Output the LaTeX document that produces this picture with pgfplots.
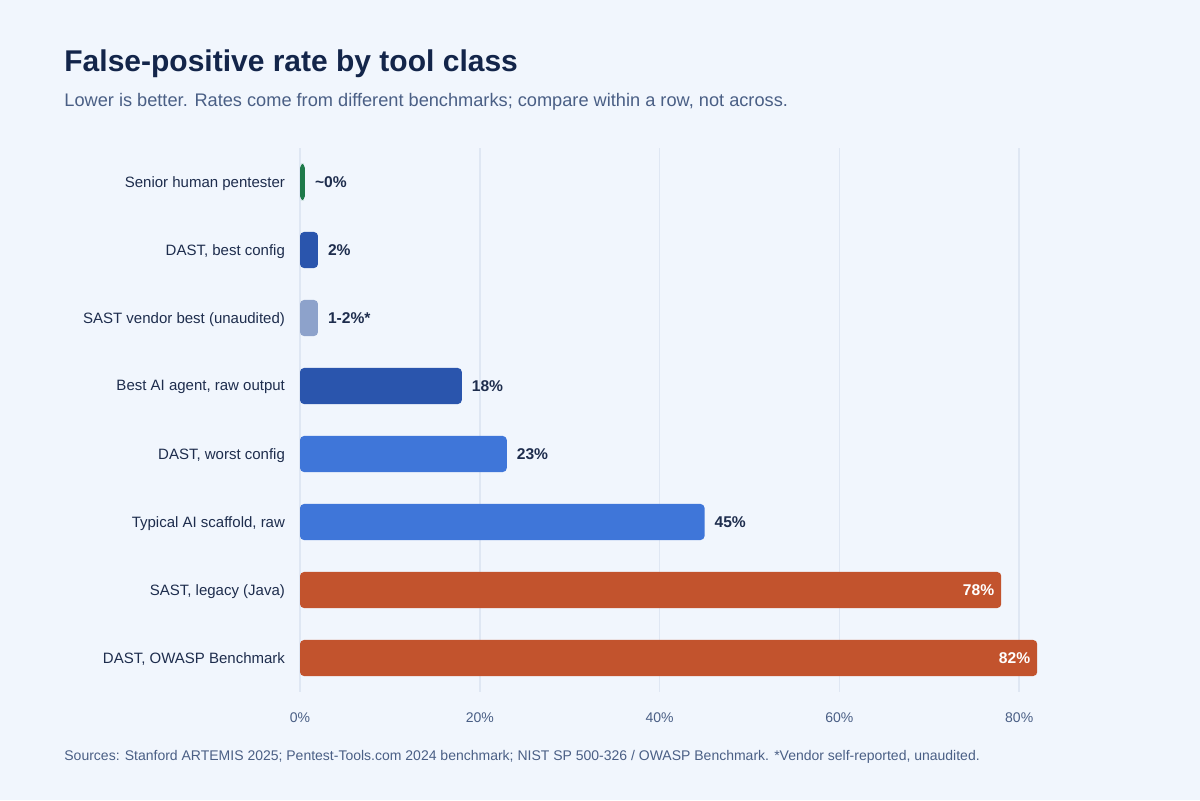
\documentclass[border=0pt]{standalone}
\usepackage{pgfplots}
\pgfplotsset{compat=1.18}
\usepackage{fontspec}
\setmainfont{Liberation Sans}
\definecolor{bg}{HTML}{F1F6FD}
\definecolor{titlec}{HTML}{13254A}
\definecolor{subc}{HTML}{4A5F85}
\definecolor{labc}{HTML}{1E2D4D}
\definecolor{gridc}{HTML}{DFE7F3}
\definecolor{cgreen}{HTML}{1F7A4A}
\definecolor{cdark}{HTML}{2A55AD}
\definecolor{cgray}{HTML}{8DA2CB}
\definecolor{cblue}{HTML}{3F76D9}
\definecolor{corange}{HTML}{C2532D}
\begin{document}
\begin{tikzpicture}
\fill[bg] (0,0) rectangle (600pt,400pt);
\node[anchor=base west, font=\fontsize{15}{17}\selectfont\bfseries, text=titlec, inner sep=0] at (32pt,364pt) {False-positive rate by tool class};
\node[anchor=base west, font=\fontsize{9.1}{11}\selectfont, text=subc, inner sep=0] at (32pt,346.5pt) {Lower is better. Rates come from different benchmarks; compare within a row, not across.};
\node[anchor=base west, font=\fontsize{7}{8}\selectfont, text=subc, inner sep=0] at (32pt,20pt) {Sources: Stanford ARTEMIS 2025; Pentest-Tools.com 2024 benchmark; NIST SP 500-326 / OWASP Benchmark. *Vendor self-reported, unaudited.};
\begin{axis}[
  scale only axis,
  width=377.6pt, height=272pt,
  at={(150pt,54pt)}, anchor=south west,
  xmin=0, xmax=84,
  ymin=-0.5, ymax=7.5,
  y dir=reverse,
  xbar, bar shift=0pt, bar width=0.53,
  axis line style={draw=none},
  major tick length=0pt,
  xmajorgrids, grid style={gridc, line width=0.8pt},
  xtick={0,20,40,60,80},
  xticklabels={0\%,20\%,40\%,60\%,80\%},
  xticklabel style={font=\fontsize{7}{8}\selectfont, text=subc, yshift=-7pt},
  ytick={0,1,2,3,4,5,6,7},
  yticklabels={Senior human pentester, {DAST, best config}, SAST vendor best (unaudited), {Best AI agent, raw output}, {DAST, worst config}, {Typical AI scaffold, raw}, {SAST, legacy (Java)}, {DAST, OWASP Benchmark}},
  yticklabel style={font=\fontsize{7.5}{9}\selectfont, text=labc, xshift=-4pt, yshift=-0.6pt},
  point meta=explicit symbolic,
  every axis plot/.append style={draw=none, rounded corners=2pt},
  nodes near coords,
  nodes near coords style={font=\fontsize{7.8}{9}\selectfont\bfseries, text=labc, anchor=west, xshift=1.5pt},
]
\addplot[fill=cgreen] coordinates {(0.55,0) [{\textasciitilde0\%}]};
\addplot[fill=cdark] coordinates {(2,1) [2\%] (18,3) [18\%]};
\addplot[fill=cgray] coordinates {(2,2) [1-2\%*]};
\addplot[fill=cblue] coordinates {(23,4) [23\%] (45,5) [45\%]};
\addplot[fill=corange, nodes near coords style={text=white, anchor=east, xshift=-1.5pt}] coordinates {(78,6) [78\%] (82,7) [82\%]};
\end{axis}
\end{tikzpicture}
\end{document}
